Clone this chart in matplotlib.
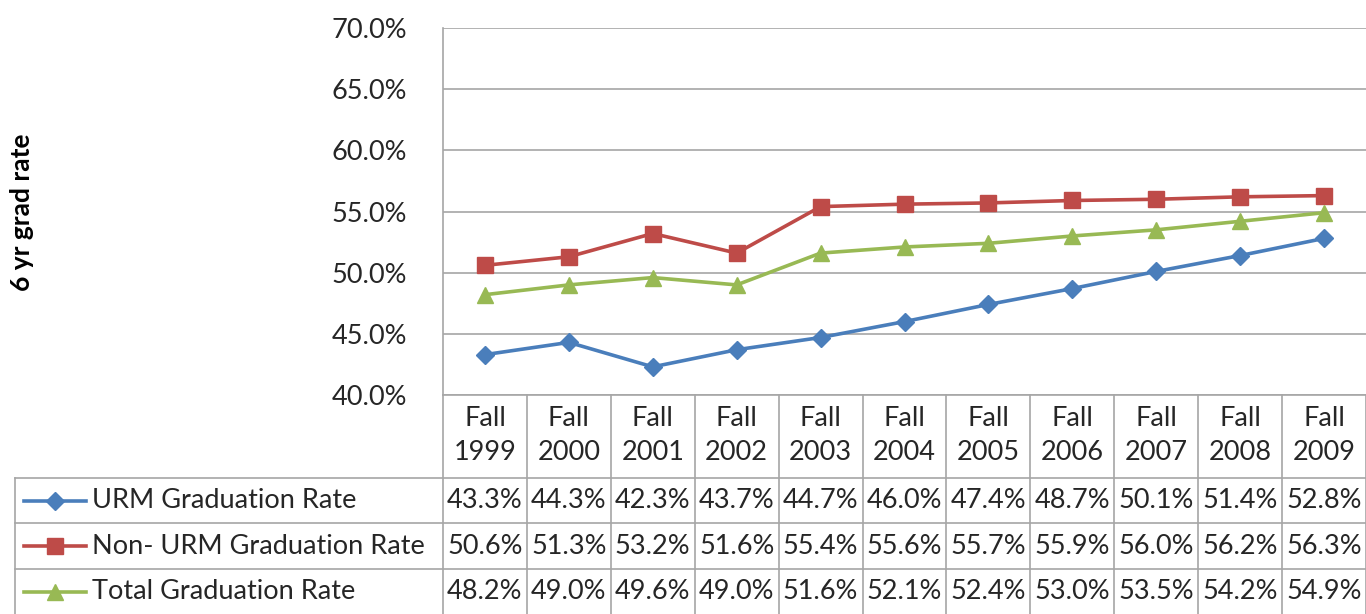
import numpy as np
import matplotlib.pyplot as plt
from matplotlib.lines import Line2D

plt.rcParams['font.family'] = ['Lato', 'DejaVu Sans']

years = ['1999', '2000', '2001', '2002', '2003', '2004', '2005', '2006', '2007', '2008', '2009']
urm = [43.3, 44.3, 42.3, 43.7, 44.7, 46.0, 47.4, 48.7, 50.1, 51.4, 52.8]
non_urm = [50.6, 51.3, 53.2, 51.6, 55.4, 55.6, 55.7, 55.9, 56.0, 56.2, 56.3]
total = [48.2, 49.0, 49.6, 49.0, 51.6, 52.1, 52.4, 53.0, 53.5, 54.2, 54.9]

series = [
    ('URM Graduation Rate', urm, '#4A7EBB', 'D', 9),
    ('Non- URM Graduation Rate', non_urm, '#BE4B48', 's', 11),
    ('Total Graduation Rate', total, '#98B954', '^', 11),
]

W, H = 1366, 614
fig = plt.figure(figsize=(W / 100, H / 100), dpi=100)
fs = 19.5
txt_c = '#262626'

# plot area in pixels
left, right, top, bottom = 443, 1366, 28, 395
ax = fig.add_axes([left / W, 1 - bottom / H, (right - left) / W, (bottom - top) / H])

x = np.arange(len(years))
for name, vals, col, mk, ms in series:
    ax.plot(x, vals, color=col, lw=2.6, marker=mk, ms=ms, mec=col, mfc=col, zorder=3)

ax.set_xlim(-0.5, len(years) - 0.5)
ax.set_ylim(40, 70)
ax.set_yticks(np.arange(40, 71, 5))
ax.set_yticklabels(['%.1f%%' % v for v in np.arange(40, 71, 5)], fontsize=fs, color=txt_c)
ax.tick_params(axis='y', length=0, pad=26)
ax.set_xticks([])
ax.grid(axis='y', color='#A6A6A6', lw=1.2)
for s in ['top', 'right', 'bottom']:
    ax.spines[s].set_visible(False)
ax.spines['left'].set_color('#A6A6A6')
ax.spines['left'].set_linewidth(1.2)

fig.text(22 / W, 1 - 212 / H, '6 yr grad rate', rotation=90, fontsize=19,
         fontweight='bold', ha='center', va='center')

# data table below the plot
colw = (right - left) / len(years)
line_c = '#A6A6A6'
row_edges = [478, 523, 569, 614]
tab_left = 15

def fx(p):
    return p / W

def fy(p):
    return 1 - p / H

# vertical lines in the header and table
for i in range(len(years) + 1):
    xp = left + i * colw
    fig.add_artist(Line2D([fx(xp), fx(xp)], [fy(bottom), fy(H)], color=line_c, lw=1.2))
fig.add_artist(Line2D([fx(tab_left), fx(tab_left)], [fy(row_edges[0]), fy(H)], color=line_c, lw=1.2))
fig.add_artist(Line2D([fx(left), fx(right)], [fy(bottom), fy(bottom)], color=line_c, lw=1.2))
for yp in row_edges[:-1]:
    fig.add_artist(Line2D([fx(tab_left), fx(right)], [fy(yp), fy(yp)], color=line_c, lw=1.2))

# header labels
for i, yr in enumerate(years):
    xc = left + (i + 0.5) * colw
    fig.text(fx(xc), fy(419), 'Fall', ha='center', va='center', fontsize=fs, color=txt_c)
    fig.text(fx(xc), fy(452), yr, ha='center', va='center', fontsize=fs, color=txt_c)

# rows
for r, (name, vals, col, mk, ms) in enumerate(series):
    yc = (row_edges[r] + row_edges[r + 1]) / 2
    fig.add_artist(Line2D([fx(24), fx(86)], [fy(yc), fy(yc)], color=col, lw=2.6))
    fig.add_artist(Line2D([fx(55)], [fy(yc)], color=col, lw=0, marker=mk, ms=ms, mfc=col, mec=col))
    fig.text(fx(92), fy(yc), name, ha='left', va='center', fontsize=fs, color=txt_c)
    for i, v in enumerate(vals):
        xc = left + (i + 0.5) * colw
        fig.text(fx(xc), fy(yc), '%.1f%%' % v, ha='center', va='center', fontsize=fs, color=txt_c)

fig.savefig('out.png', dpi=100)
